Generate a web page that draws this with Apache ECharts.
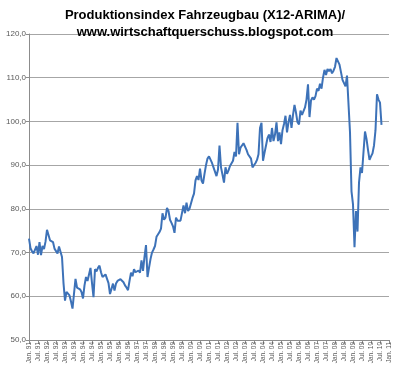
<!DOCTYPE html>
<html>
<head>
<meta charset="utf-8">
<script src="https://cdn.jsdelivr.net/npm/echarts@6/dist/echarts.min.js"></script>
<style>
  html, body { margin: 0; padding: 0; background: #fff; }
  #main { width: 400px; height: 376px; }
</style>
</head>
<body>
<div id="main"></div>
<script>
// Monatswerte, Jan. 91 bis Jul. 10
const werte1991_1995 = [
  73.2, 71, 70.3, 69.8, 69.4, 71.5, 69.5, 72.4, 69.4, 71.5, 70.8, 72.5,
  75.2, 75.4, 72.8, 73.2, 72.4, 70.9, 70.5, 69.8, 71.4, 71.4, 69, 63,
  59, 61, 60.6, 60.2, 58.8, 57.2, 57.2, 64, 62, 61.6, 61.6, 61,
  59.5, 62.5, 64.4, 63.5, 65, 66.5, 63, 59.8, 66.2, 65.7, 66.5, 67,
  65.5, 64.4, 64.8, 65, 64.6, 63, 60.5, 60.6, 62.9, 61.3, 62.9, 63.5
];
const werte1996_2000 = [
  63.9, 63.9, 63.5, 63.2, 62.5, 62, 61.4, 63.5, 65.4, 64.6, 66.2, 65.5,
  65.3, 65.9, 65.4, 68.2, 65.8, 69, 71.7, 64.4, 66.5, 68.5, 70, 70.7,
  71.5, 73.6, 73.3, 74.7, 75.5, 79, 77.5, 78, 80.2, 79.5, 77.5, 76.8,
  76, 74.5, 78, 77.3, 77.6, 77.3, 77.5, 80.8, 79, 81.4, 79.5, 80,
  79.6, 82.5, 83.5, 86.5, 87.5, 86.6, 89.2, 86.5, 85.8, 88, 90, 91.5
];
const werte2001_2005 = [
  92, 91.6, 90.5, 89.5, 89.5, 87.5, 89, 94.5, 89.5, 87.8, 86, 89.5,
  88, 88.8, 89.8, 89.5, 91, 93, 92, 99.7, 92.5, 94, 94.5, 95,
  95.2, 93.5, 92.5, 92.8, 91.5, 89.5, 89.8, 90.5, 91.2, 92.5, 98.5, 99.7,
  91, 92.8, 94.5, 96.2, 97, 95.3, 98.5, 95.5, 97, 99.8, 95.5, 97.5,
  94.8, 98, 99.4, 101.3, 97.5, 99.8, 101.5, 98.5, 101.5, 103.8, 102, 99.8
];
const werte2006_2010 = [
  99.3, 102.5, 101.5, 101.5, 103.2, 105, 108.5, 101, 104.8, 105.5, 105, 105.8,
  107.5, 107, 108.6, 107.5, 110, 111.8, 110.6, 112, 111.5, 112, 111, 111.6,
  112.5, 114.5, 114.2, 113, 113, 109.5, 109.2, 108, 110.5, 104, 97.5, 84,
  81, 71.2, 79.5, 74.8, 86, 89.5, 88.2, 93, 97.7, 96, 93.5, 91.2,
  92, 92.7, 94.5, 98, 106.2, 105, 104.3, 99.2
];
const monate = ["Jan.", "Feb.", "Mrz.", "Apr.", "Mai.", "Jun.", "Jul.", "Aug.", "Sep.", "Okt.", "Nov.", "Dez."];
const startJahr = 1991;
const endJahr = 2011;

const werte = werte1991_1995.concat(werte1996_2000, werte2001_2005, werte2006_2010);
const kategorien = [];
for (let j = startJahr; j <= endJahr; j++) {
  for (let m = 0; m < 12; m++) {
    if (j === endJahr && m > 0) break;
    kategorien.push(monate[m] + " " + String(j).slice(2));
  }
}

const zeigen = (i) => i % 6 === 0;
const grau = "#8c8c8c";

const chart = echarts.init(document.getElementById("main"));
chart.setOption({
  animation: false,
  title: {
    text: "Produktionsindex Fahrzeugbau (X12-ARIMA)/\nwww.wirtschaftquerschuss.blogspot.com",
    left: 200,
    top: 2,
    textAlign: "center",
    textStyle: {
      fontFamily: "Liberation Sans",
      fontWeight: "bold",
      fontSize: 13,
      lineHeight: 17,
      color: "#000"
    }
  },
  grid: { left: 29, right: 11, top: 34, bottom: 36 },
  xAxis: {
    type: "category",
    data: kategorien,
    boundaryGap: false,
    axisLine: { lineStyle: { color: grau } },
    axisTick: { interval: zeigen, length: 4, lineStyle: { color: grau } },
    axisLabel: {
      interval: zeigen,
      rotate: 90,
      fontSize: 6.5,
      fontFamily: "Liberation Sans",
      color: "#595959",
      margin: 2
    },
    splitLine: { show: false }
  },
  yAxis: {
    type: "value",
    min: 50,
    max: 120,
    interval: 10,
    axisLine: { show: true, lineStyle: { color: grau } },
    axisTick: { show: true, length: 3, lineStyle: { color: grau } },
    axisLabel: {
      fontSize: 8,
      fontFamily: "Liberation Sans",
      color: "#595959",
      margin: 3,
      formatter: (v) => v.toFixed(1).replace(".", ",")
    },
    splitLine: { lineStyle: { color: "#a6a6a6", width: 1 } }
  },
  series: [
    {
      type: "line",
      data: werte,
      showSymbol: false,
      lineStyle: { color: "#3d72b8", width: 2 },
      itemStyle: { color: "#3d72b8" }
    }
  ]
});
</script>
</body>
</html>
